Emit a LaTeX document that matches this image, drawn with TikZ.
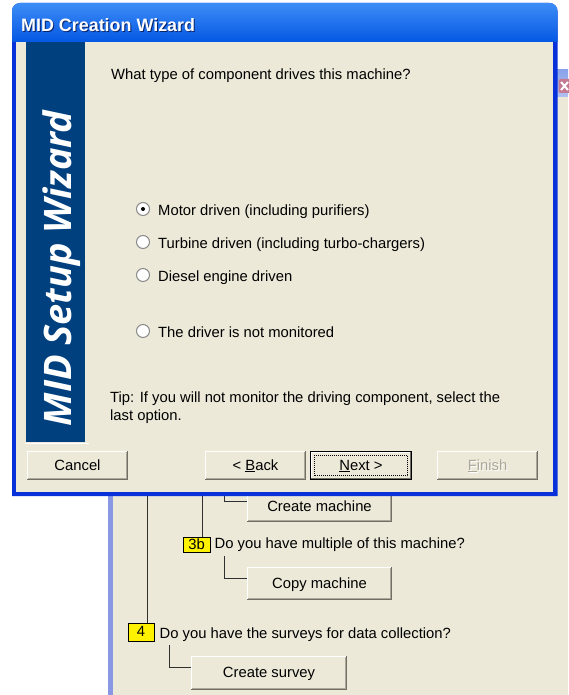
\documentclass[tikz,border=0pt]{standalone}
\usepackage{fontspec}
\setmainfont{Liberation Sans}
\newfontfamily\bannerfont{Open Sans}
\usetikzlibrary{calc}
\definecolor{xpbeige}{HTML}{ECE9D8}
\definecolor{xpborder}{HTML}{0831D9}
\definecolor{titletop}{HTML}{3D8DF7}
\definecolor{titlebot}{HTML}{0457E3}
\definecolor{titleshadow}{HTML}{0A246A}
\definecolor{bannerblue}{HTML}{00407F}
\definecolor{bgborder}{HTML}{8898E4}
\definecolor{bgtitletop}{HTML}{8AA3EA}
\definecolor{bgtitlebot}{HTML}{B0C0F2}
\definecolor{xpink}{HTML}{C47A92}
\definecolor{btndark}{HTML}{716F64}
\definecolor{btnmid}{HTML}{ACA899}
\definecolor{radiogrey}{HTML}{8A8A8A}
\definecolor{treeline}{HTML}{303030}
\newcommand\btnedges[1]{%
  \draw[white,line width=1pt] ([shift={(0.5pt,0.5pt)}]#1.south west) |- ([shift={(-0.5pt,-0.5pt)}]#1.north east);
  \draw[btndark,line width=1pt] ([shift={(0.5pt,0.5pt)}]#1.south west) -| ([shift={(-0.5pt,-0.5pt)}]#1.north east);
  \draw[btnmid,line width=1pt] ([shift={(1.5pt,1.5pt)}]#1.south west) -| ([shift={(-1.5pt,-1.5pt)}]#1.north east);
}
\begin{document}
\begin{tikzpicture}[x=1pt,y=-1pt,font=\fontsize{14.8pt}{17pt}\selectfont,
  txt/.style={anchor=base west,inner sep=0pt,text=black},
  dlgbtn/.style={fill=xpbeige,inner sep=0pt,minimum width=101pt,minimum height=29pt,text height=11pt,text depth=1.5pt},
  treebtn/.style={fill=xpbeige,inner sep=0pt,text height=11pt,text depth=1.5pt},
  radio/.style={circle,inner sep=0pt,minimum size=13pt,draw=radiogrey,line width=1pt,fill=white},
  tag/.style={fill=yellow,draw=black,line width=1pt,inner sep=0pt,text height=11pt,text depth=1.5pt},
  conn/.style={draw=treeline,line width=1pt}]
\useasboundingbox (0,0) rectangle (568,695);
\fill[white] (0,0) rectangle (568,695);
% background window
\fill[xpbeige] (108,70) rectangle (568,695);
\fill[bgborder] (108,70) rectangle (113,695);
\shade[top color=bgtitletop,bottom color=bgtitlebot] (108,70) rectangle (568,97);
\fill[xpink,rounded corners=2pt] (558.5,79) rectangle (574,93);
\draw[white,line width=2pt] (561,82) -- (568,90) (561,90) -- (568,82);
% tree content
\coordinate (t1top) at (147,470);
\coordinate (t2top) at (202,470);
\coordinate (t3top) at (224.5,470);
\coordinate (c3b) at (224.5,556);
\coordinate (c4) at (169.5,645);
\node[treebtn,minimum width=145pt,minimum height=30pt] (cm) at (319.5,507) {Create machine};
\btnedges{cm}
\node[tag,minimum width=27pt,minimum height=15pt] (t3b) at (196.5,544.5) {3b};
\node[txt] (q3b) at (214.5,548) {Do you have multiple of this machine?};
\node[treebtn,minimum width=145pt,minimum height=33pt] (cpm) at (319.5,583.5) {Copy machine};
\btnedges{cpm}
\node[tag,minimum width=26pt,minimum height=18pt] (t4) at (141,632) {4};
\node[txt] (q4) at (159.5,638) {Do you have the surveys for data collection?};
\node[treebtn,minimum width=156pt,minimum height=34pt] (cs) at (269,673) {Create survey};
\btnedges{cs}
\draw[conn] (t1top) -- (t1top |- t4.north);
\draw[conn] (t2top) -- (t2top |- t3b.north);
\draw[conn] (t3top) |- ([yshift=6pt]cm.west);
\draw[conn] (c3b) |- ([yshift=5.5pt]cpm.west);
\draw[conn] (c4) |- ([yshift=6pt]cs.west);
% dialog frame
\fill[xpborder] (12,496) -- (12,20) [rounded corners=8pt] -- (12,3) -- (557.5,3) -- (557.5,20) [sharp corners] -- (557.5,496) -- cycle;
\shade[top color=titletop,bottom color=titlebot] (12,42) -- (12,20) [rounded corners=8pt] -- (12,3) -- (557.5,3) -- (557.5,20) [sharp corners] -- (557.5,42) -- cycle;
\fill[xpbeige] (16,42) rectangle (553,492);
\node[txt,text=titleshadow,font=\fontsize{17.9pt}{20pt}\selectfont\bfseries] (titlesh) at (22,33) {MID Creation Wizard};
\node[txt,text=white,font=\fontsize{17.9pt}{20pt}\selectfont\bfseries] (title) at (21,32) {MID Creation Wizard};
% banner
\fill[bannerblue] (26,42) rectangle (85,442);
\draw[white,line width=1pt] (25,443.5) -- (89,443.5);
\node[anchor=base,inner sep=0pt,rotate=90,text=white,font=\bannerfont\fontsize{37.9pt}{42pt}\selectfont\bfseries\itshape] (banner) at (71.5,268.5) {MID Setup Wizard};
% texts
\node[txt] (question) at (111,80) {What type of component drives this machine?};
\node[radio] (r1) at (143,209) {};
\fill[black] (r1) circle (2pt);
\node[txt] (l1) at (158,215) {Motor driven (including purifiers)};
\node[radio] (r2) at (143,242) {};
\node[txt] (l2) at (158,248) {Turbine driven (including turbo-chargers)};
\node[radio] (r3) at (143,275) {};
\node[txt] (l3) at (158,281) {Diesel engine driven};
\node[radio] (r4) at (143,331) {};
\node[txt] (l4) at (158,337) {The driver is not monitored};
\node[txt] (tip1) at (110,402) {Tip: If you will not monitor the driving component, select the};
\node[txt] (tip2) at (110,420) {last option.};
% buttons
\node[dlgbtn] (cancel) at (77.5,465.5) {Cancel};
\btnedges{cancel}
\node[dlgbtn] (back) at (255.5,465.5) {< \underline{B}ack};
\btnedges{back}
\node[dlgbtn,minimum width=102pt] (next) at (361,465.5) {\underline{N}ext >};
\draw[black,line width=1pt] ([shift={(0.5pt,0.5pt)}]next.south west) rectangle ([shift={(-0.5pt,-0.5pt)}]next.north east);
\draw[white,line width=1pt] ([shift={(1.5pt,1.5pt)}]next.south west) |- ([shift={(-1.5pt,-1.5pt)}]next.north east);
\draw[btndark,line width=1pt] ([shift={(1.5pt,1.5pt)}]next.south west) -| ([shift={(-1.5pt,-1.5pt)}]next.north east);
\draw[black,line width=1pt,dash pattern=on 1pt off 1pt] ([shift={(4.5pt,4.5pt)}]next.south west) rectangle ([shift={(-4.5pt,-4.5pt)}]next.north east);
\node[dlgbtn] (finish) at (487.5,465.5) {};
\btnedges{finish}
\node[inner sep=0pt,text height=11pt,text depth=1.5pt,text=white] (finsh) at (488.5,466.5) {\underline{F}inish};
\node[inner sep=0pt,text height=11pt,text depth=1.5pt,text=btnmid] (fintxt) at (487.5,465.5) {\underline{F}inish};
\end{tikzpicture}
\end{document}
